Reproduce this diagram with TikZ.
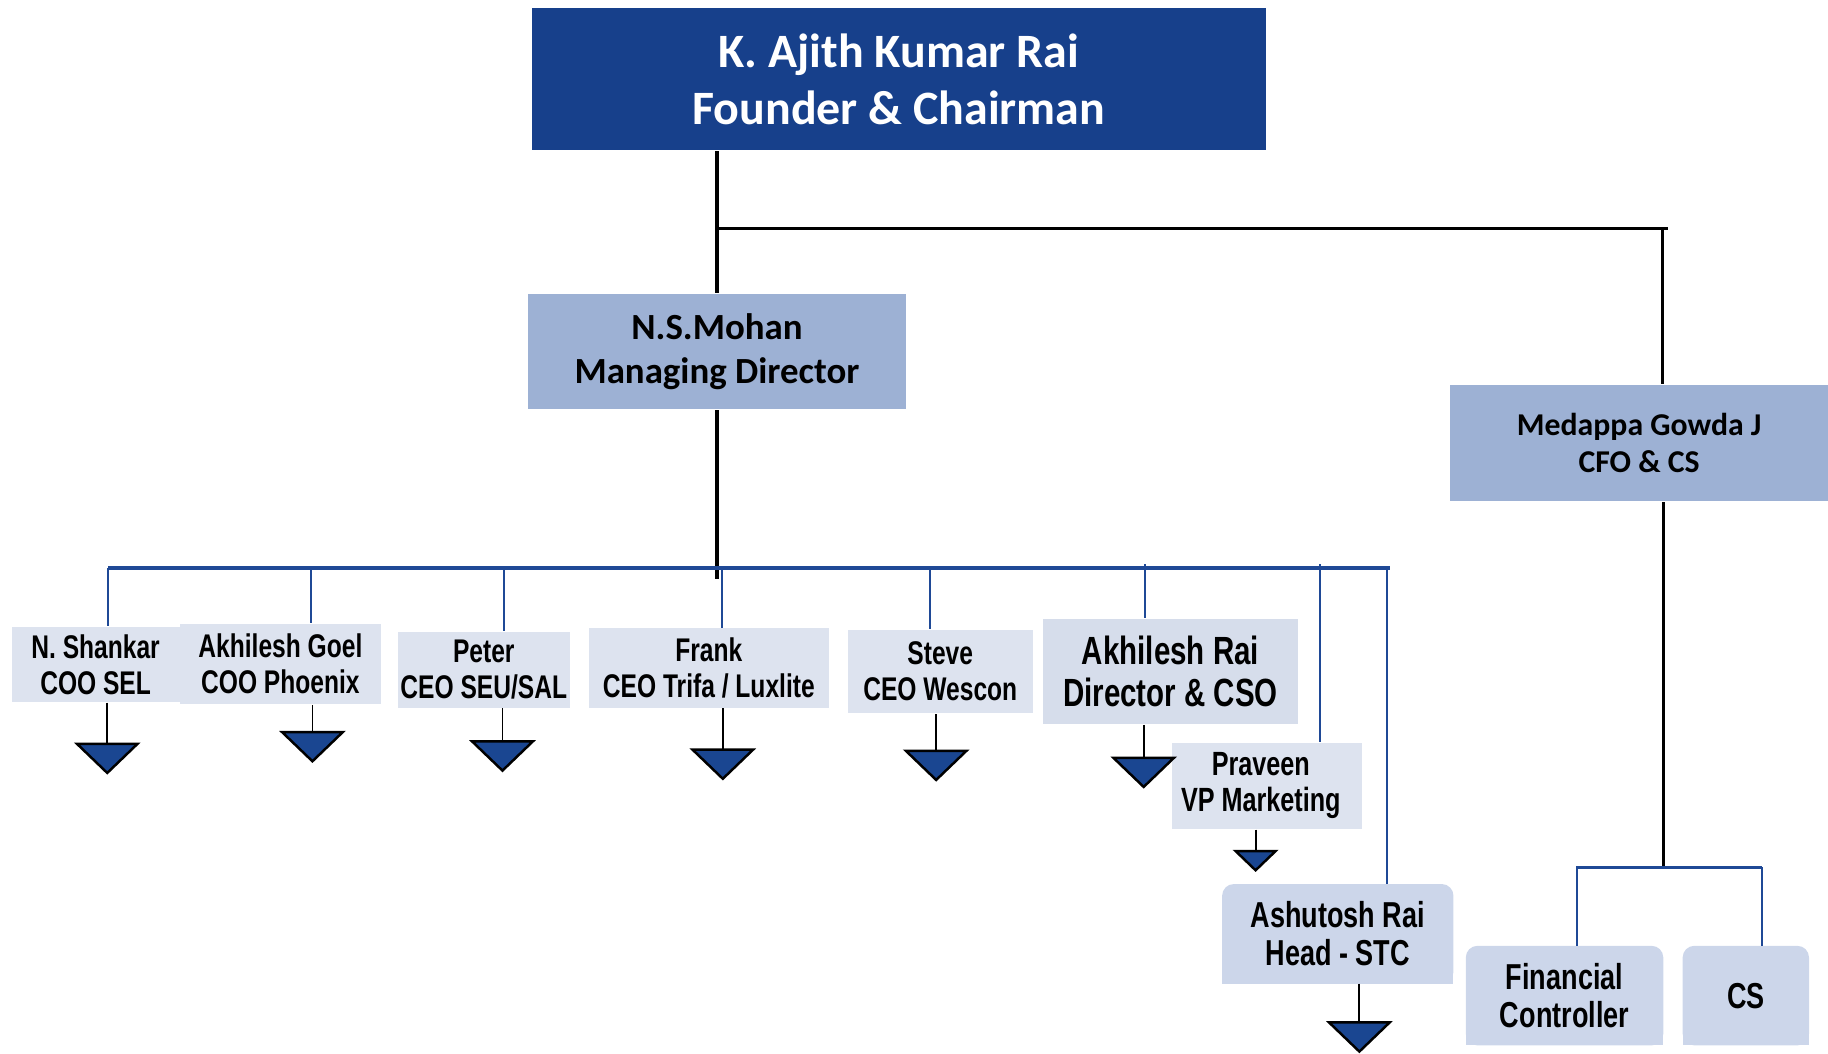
\documentclass[tikz,border=0pt]{standalone}
\usepackage{fontspec}
\newfontfamily\calib{Carlito}
\newfontfamily\narr[FakeStretch=0.75]{Liberation Sans}
\usetikzlibrary{backgrounds}
\definecolor{darkblue}{RGB}{23,64,139}
\definecolor{midblue}{RGB}{157,177,212}
\definecolor{lightfill}{RGB}{221,227,239}
\definecolor{dotfill}{RGB}{214,221,235}
\definecolor{meshfill}{RGB}{204,214,234}
\definecolor{lineblue}{RGB}{31,73,150}
\definecolor{triblue}{RGB}{26,70,145}
\begin{document}
\begin{tikzpicture}[
  box/.style={rectangle, inner sep=0pt, align=center, text=black},
  topbox/.style={box, fill=darkblue, text=white, font={\calib\bfseries\fontsize{11.7}{13.9}\selectfont}},
  mdbox/.style={box, fill=midblue, font={\calib\bfseries\fontsize{9}{10.8}\selectfont}},
  cfobox/.style={box, fill=midblue, font={\calib\bfseries\fontsize{7.75}{9.1}\selectfont}},
  smallbox/.style={box, fill=lightfill, font={\narr\bfseries\fontsize{8}{8.8}\selectfont}},
  meshbox/.style={box, font={\narr\bfseries\fontsize{8.8}{9.4}\selectfont}},
  blk/.style={line width=0.85pt, black},
  thinblk/.style={line width=0.45pt, black},
  bluebar/.style={line width=0.9pt, lineblue},
  thinblue/.style={line width=0.5pt, lineblue},
  tri/.style={fill=triblue, draw=black, line width=0.6pt, line join=miter},
  downtri/.pic={\draw[tri] (-0.26,0) -- (0.26,0) -- (0,-0.25) -- cycle;}
]
\useasboundingbox (0,0) rectangle (15.68,-9.04);

% main boxes
\node[topbox, minimum width=6.30cm, minimum height=1.22cm] (founder) at (7.71,-0.68) {K. Ajith Kumar Rai\\Founder \& Chairman};
\node[mdbox, minimum width=3.24cm, minimum height=0.99cm] (md) at (6.15,-3.015) {\raisebox{-0.03cm}{N.S.Mohan}\\\raisebox{-0.03cm}{Managing Director}};
\node[cfobox, minimum width=3.24cm, minimum height=1.00cm] (cfo) at (14.06,-3.80) {Medappa Gowda J\\CFO \& CS};

% second level boxes
\node[smallbox, minimum width=1.44cm, minimum height=0.64cm] (b1) at (0.82,-5.70) {N. Shankar\\COO SEL};
\node[smallbox, minimum width=1.73cm, minimum height=0.69cm] (b2) at (2.405,-5.695) {Akhilesh Goel\\COO Phoenix};
\node[smallbox, minimum width=1.48cm, minimum height=0.65cm] (b3) at (4.15,-5.745) {Peter\\CEO SEU/SAL};
\node[smallbox, minimum width=2.06cm, minimum height=0.68cm] (b4) at (6.08,-5.73) {Frank\\CEO Trifa / Luxlite};
\node[smallbox, minimum width=1.59cm, minimum height=0.72cm] (b5) at (8.065,-5.76) {Steve\\CEO Wescon};
\node[box, fill=dotfill, minimum width=2.18cm, minimum height=0.90cm, font={\narr\bfseries\fontsize{9.6}{10.2}\selectfont}] (b6) at (10.04,-5.76) {Akhilesh Rai\\Director \& CSO};
\node[smallbox, minimum width=1.63cm, minimum height=0.74cm, font={\narr\bfseries\fontsize{8.2}{8.8}\selectfont}] (b7) at (10.865,-6.74) {\hspace*{-0.1cm}Praveen\\\hspace*{-0.1cm}VP Marketing};
\node[meshbox, minimum width=1.97cm, minimum height=0.84cm] (b8) at (11.475,-8.01) {Ashutosh Rai\\Head - STC};
\node[meshbox, minimum width=1.68cm, minimum height=0.84cm] (fc) at (13.42,-8.54) {Financial\\Controller};
\node[meshbox, minimum width=1.07cm, minimum height=0.84cm] (cs) at (14.975,-8.54) {CS};

\begin{scope}[on background layer]
  \foreach \n in {b8,fc,cs}{
    \fill[meshfill, rounded corners=0.1cm] (\n.south west) rectangle (\n.north east);
    \fill[meshfill] (\n.south west) rectangle (\n.east);
  }
\end{scope}

% top connectors
\coordinate (j1) at (6.14,-1.96);
\coordinate (c1) at (14.26,-1.96);
\draw[blk] (founder.south -| md.north) -- (md.north);
\draw[blk] (j1) -- (14.31,-1.96);
\draw[blk] (c1) -- (c1 |- cfo.north);

% MD to bar
\coordinate (j2) at (6.15,-4.97);
\draw[blk] (md.south) -- (j2);

% blue bar
\coordinate (bl) at (0.93,-4.87);
\coordinate (br) at (11.92,-4.87);
\draw[bluebar] (bl) -- (br);
\coordinate (v1) at (0.93,-4.87);
\coordinate (v2) at (2.67,-4.87);
\coordinate (v3) at (4.32,-4.87);
\coordinate (v4) at (6.19,-4.87);
\coordinate (v5) at (7.98,-4.87);
\coordinate (v6) at (9.82,-4.84);
\coordinate (v7) at (11.32,-4.84);
\coordinate (v8) at (11.90,-4.87);
\draw[thinblue] (v1) -- (v1 |- b1.north);
\draw[thinblue] (v2) -- (v2 |- b2.north);
\draw[thinblue] (v3) -- (v3 |- b3.north);
\draw[thinblue] (v4) -- (v4 |- b4.north);
\draw[thinblue] (v5) -- (v5 |- b5.north);
\draw[thinblue] (v6) -- (v6 |- b6.north);
\draw[thinblue] (v7) -- (v7 |- b7.north);
\draw[thinblue] (v8) -- (v8 |- b8.north);

% right branch
\coordinate (j3) at (14.27,-7.44);
\draw[blk] (cfo.south -| j3) -- (j3);
\coordinate (r1) at (13.53,-7.44);
\coordinate (r2) at (15.11,-7.44);
\draw[thinblue, line width=0.6pt] (13.52,-7.44) -- (r2);
\draw[thinblue] (r1) -- (r1 |- fc.north);
\draw[thinblue] (r2) -- (r2 |- cs.north);

% triangles
\coordinate (t1) at (0.92,-6.38);
\coordinate (t2) at (2.68,-6.28);
\coordinate (t3) at (4.31,-6.36);
\coordinate (t4) at (6.20,-6.43);
\coordinate (t5) at (8.03,-6.44);
\coordinate (t6) at (9.81,-6.50);
\coordinate (t7) at (10.77,-7.30);
\coordinate (t8) at (11.66,-8.77);
\draw[thinblk] (b1.south -| t1) -- (t1);
\draw[thinblk] (b2.south -| t2) -- (t2);
\draw[thinblk] (b3.south -| t3) -- (t3);
\draw[thinblk] (b4.south -| t4) -- (t4);
\draw[thinblk] (b5.south -| t5) -- (t5);
\draw[thinblk] (b6.south -| t6) -- (t6);
\draw[thinblk] (b7.south -| t7) -- (t7);
\draw[thinblk] (b8.south -| t8) -- (t8);
\pic at (t1) {downtri};
\pic at (t2) {downtri};
\pic at (t3) {downtri};
\pic at (t4) {downtri};
\pic at (t5) {downtri};
\pic at (t6) {downtri};
\pic[scale=0.66] at (t7) {downtri};
\pic at (t8) {downtri};
\end{tikzpicture}
\end{document}
